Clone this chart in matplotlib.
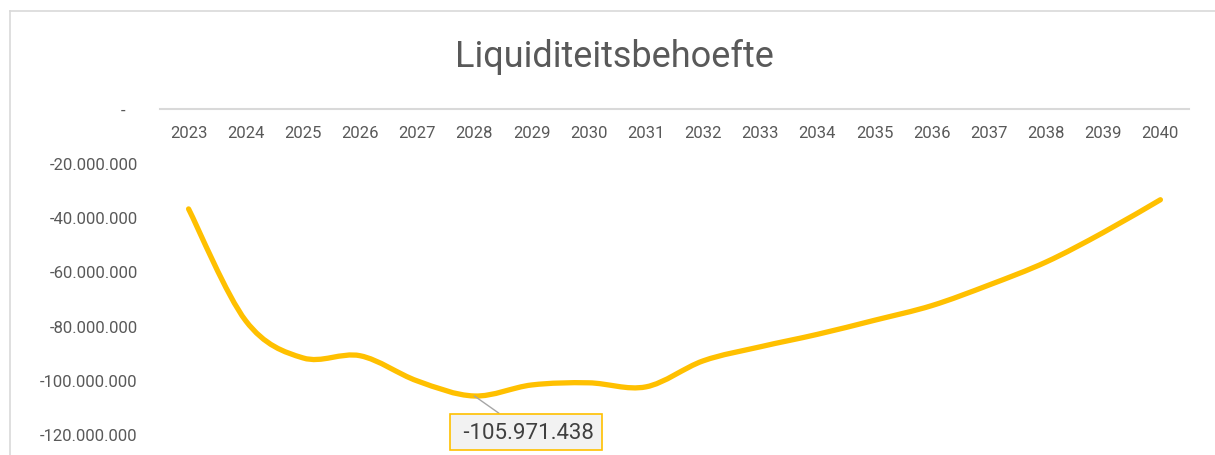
import numpy as np
import matplotlib.pyplot as plt
from matplotlib.path import Path
from matplotlib.patches import PathPatch
from matplotlib.lines import Line2D
from matplotlib.ticker import FuncFormatter, MultipleLocator

plt.rcParams['font.family'] = ['Roboto', 'DejaVu Sans']

# Liquiditeitsbehoefte per jaar (EUR)
jaren = ['2023', '2024', '2025', '2026', '2027', '2028', '2029', '2030', '2031',
         '2032', '2033', '2034', '2035', '2036', '2037', '2038', '2039', '2040']
behoefte = [-36.9e6, -78.2e6, -91.9e6, -91.1e6, -100.4e6, -105971438, -101.9e6,
            -101.1e6, -102.6e6, -93.0e6, -87.8e6, -83.2e6, -78.0e6, -72.6e6,
            -65.0e6, -56.5e6, -45.6e6, -33.5e6]
label_jaar = '2028'

GEEL = '#FFC000'
GRIJS = '#595959'

fig = plt.figure(figsize=(12.15, 4.56), dpi=100)
W, H = 1215, 456
ax = fig.add_axes([160 / W, 1 - 435 / H, (1189 - 160) / W, (435 - 110) / H])

# afgevlakte lijn (Bezier door de punten, zoals in Excel)
x = np.arange(len(jaren))
y = np.array(behoefte, dtype=float)
n = len(x)
verts = [(x[0], y[0])]
codes = [Path.MOVETO]
for i in range(n - 1):
    a = max(i - 1, 0)
    b = min(i + 2, n - 1)
    c1 = (x[i] + (x[i + 1] - x[a]) / 6, y[i] + (y[i + 1] - y[a]) / 6)
    c2 = (x[i + 1] - (x[b] - x[i]) / 6, y[i + 1] - (y[b] - y[i]) / 6)
    verts += [c1, c2, (x[i + 1], y[i + 1])]
    codes += [Path.CURVE4] * 3
lijn = PathPatch(Path(verts, codes), fill=False, edgecolor=GEEL, lw=3.8,
                 capstyle='round', joinstyle='round', zorder=3)
ax.add_patch(lijn)

ax.set_xlim(-0.5, n - 0.5)
ax.set_ylim(-120e6, 0)
ax.set_xticks(x)
ax.set_xticklabels(jaren)
ax.yaxis.set_major_locator(MultipleLocator(20e6))


def fmt(v, pos):
    if abs(v) < 1:
        return '-   '
    return f'{v:,.0f}'.replace(',', '.')


ax.yaxis.set_major_formatter(FuncFormatter(fmt))
ax.xaxis.tick_top()
ax.tick_params(axis='x', length=0, pad=-22.5, labelsize=12, labelcolor=GRIJS)
ax.tick_params(axis='y', length=0, pad=16, labelsize=12, labelcolor=GRIJS)
for s in ['left', 'right', 'bottom']:
    ax.spines[s].set_visible(False)
ax.spines['top'].set_color('#d9d9d9')
ax.spines['top'].set_linewidth(1.5)

# waardelabel bij het laagste punt
i = jaren.index(label_jaar)
waarde = behoefte[i]
ax.annotate(f' {waarde:,.0f}'.replace(',', '.'), xy=(i, waarde),
            xytext=(37, -26), textcoords='offset points',
            ha='center', va='center', fontsize=16, color='#404040',
            bbox=dict(boxstyle='square,pad=0.35', fc='#f2f2f2', ec=GEEL, lw=1.2),
            arrowprops=dict(arrowstyle='-', color='#a6a6a6', lw=1,
                            shrinkA=0, shrinkB=0),
            annotation_clip=False, zorder=4)

fig.text(614 / W, 1 - 57 / H, 'Liquiditeitsbehoefte', ha='center', va='center',
         fontsize=26, color=GRIJS)

# kader van het grafiekgebied
fig.add_artist(Line2D([10 / W, 1], [1 - 12 / H, 1 - 12 / H], color='#d9d9d9', lw=1.2))
fig.add_artist(Line2D([10 / W, 10 / W], [1 - 12 / H, 0], color='#d9d9d9', lw=1.2))

fig.savefig('out.png', dpi=100, facecolor='white')
